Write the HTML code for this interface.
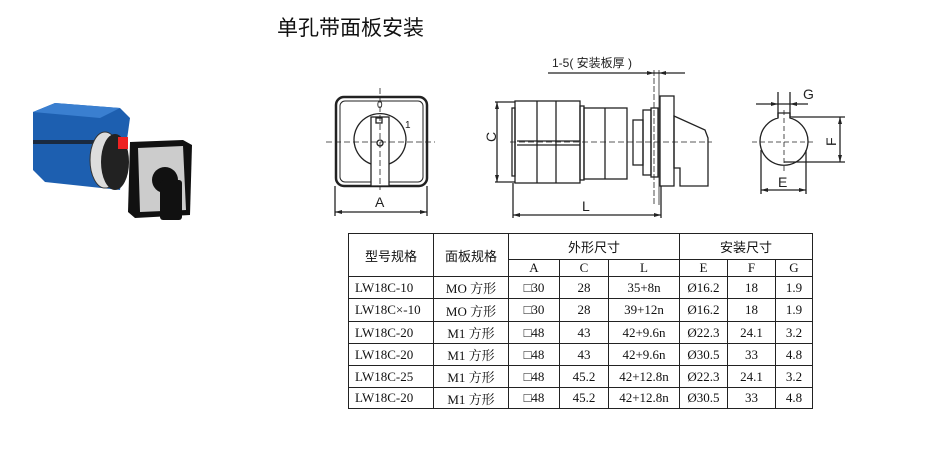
<!DOCTYPE html>
<html><head><meta charset="utf-8"><style>
body{margin:0;width:938px;height:472px;background:#fff;position:relative;overflow:hidden;font-family:"Liberation Sans","Noto Sans CJK SC",sans-serif;}
.t{position:absolute;left:277px;top:12px;font-size:21px;letter-spacing:0px;color:#111;font-family:"Noto Sans CJK SC",sans-serif;}
table{position:absolute;left:348px;top:233px;border-collapse:collapse;font-family:"Liberation Serif","Noto Serif CJK SC",serif;font-size:13px;color:#111;}
td{border:1px solid #222;text-align:center;padding:0;}
.c{font-family:"Noto Sans CJK SC",sans-serif;font-size:13px;}
.l{text-align:left;padding-left:6px;}
</style></head><body>
<div class="t">单孔带面板安装</div>
<svg width="938" height="472" style="position:absolute;left:0;top:0">
<g>
<polygon points="33,112 55,103 120,108 130,118 120,190 45,182 33,170" fill="#1d5fb0"/>
<polygon points="33,112 55,103 120,108 100,118" fill="#3a7fd0"/>
<rect x="33" y="140" width="88" height="4" fill="#1a2a40" transform="skew(0,5)"/>
<ellipse cx="105" cy="160" rx="15" ry="28" fill="#ddd" stroke="#333"/>
<ellipse cx="115" cy="162" rx="14" ry="28" fill="#222"/>
<rect x="118" y="137" width="10" height="12" fill="#e22"/>
<polygon points="130,142 183,140 192,145 190,215 135,218 128,212" fill="#111"/>
<polygon points="138,148 183,146 186,210 140,212" fill="#ccc"/>
<circle cx="165" cy="180" r="13" fill="#111"/>
<rect x="160" y="180" width="22" height="40" rx="3" fill="#111"/>
</g>
<g stroke="#222" fill="none" stroke-width="1.3">
<rect x="336" y="97" width="91" height="89" rx="8" stroke-width="2.5"/>
<rect x="340" y="101" width="83" height="81" rx="5" stroke-width="1"/>
<path d="M371,164 A26,26 0 1 1 389,164" />
<rect x="371" y="117" width="18" height="69" fill="#fff"/>
<rect x="376" y="118" width="6" height="5"/>
<circle cx="380" cy="143" r="3"/>
<line x1="326" y1="142" x2="435" y2="142" stroke-dasharray="6,3" stroke-width="0.8"/>
<line x1="380" y1="88" x2="380" y2="190" stroke-dasharray="6,3" stroke-width="0.8"/>
<line x1="335" y1="186" x2="335" y2="216"/><line x1="427" y1="186" x2="427" y2="216"/>
<line x1="335" y1="212" x2="427" y2="212"/>
<rect x="515" y="101" width="65" height="82"/>
<line x1="537" y1="101" x2="537" y2="183"/><line x1="556" y1="101" x2="556" y2="183"/>
<line x1="517" y1="141" x2="580" y2="141"/><line x1="517" y1="145" x2="580" y2="145"/>
<rect x="512" y="108" width="3" height="68"/>
<rect x="580" y="106" width="4" height="74"/>
<rect x="584" y="108" width="43" height="71"/>
<line x1="605" y1="108" x2="605" y2="179"/>
<rect x="633" y="120" width="10" height="45"/>
<rect x="643" y="110" width="8" height="65"/>
<rect x="651" y="108" width="7" height="69"/>
<rect x="660" y="96" width="14" height="90"/>
<polygon points="674,116 705,130 708,138 708,186 680,186 680,168 674,168"/>
<line x1="654" y1="70" x2="654" y2="205" stroke-dasharray="6,2" stroke-width="0.8"/>
<line x1="659" y1="70" x2="659" y2="205" stroke-width="0.8"/>
<line x1="510" y1="142" x2="712" y2="142" stroke-dasharray="6,3" stroke-width="0.8"/>
<line x1="495" y1="102" x2="515" y2="102"/><line x1="495" y1="182" x2="515" y2="182"/>
<line x1="497" y1="102" x2="497" y2="182"/>
<line x1="513" y1="183" x2="513" y2="218"/><line x1="661" y1="186" x2="661" y2="218"/>
<line x1="513" y1="215" x2="661" y2="215"/>
<line x1="548" y1="73" x2="685" y2="73"/>
<path d="M778,118 A24,24 0 1 0 790,118 L790,113 L778,113 Z"/>
<line x1="778" y1="92" x2="778" y2="118"/><line x1="790" y1="92" x2="790" y2="118"/>
<line x1="756" y1="104" x2="808" y2="104"/>
<line x1="790" y1="117" x2="845" y2="117"/><line x1="784" y1="162" x2="845" y2="162"/>
<line x1="840" y1="117" x2="840" y2="162"/>
<line x1="761" y1="150" x2="761" y2="194"/><line x1="806" y1="150" x2="806" y2="194"/>
<line x1="761" y1="190" x2="806" y2="190"/>
<line x1="752" y1="142" x2="815" y2="142" stroke-dasharray="5,3" stroke-width="0.8"/>
<line x1="784" y1="110" x2="784" y2="172" stroke-dasharray="5,3" stroke-width="0.8"/>
</g>
<g fill="#222">
<polygon points="335,212 342,210 342,214"/><polygon points="427,212 420,210 420,214"/>
<polygon points="497,102 495,109 499,109"/><polygon points="497,182 495,175 499,175"/>
<polygon points="513,215 520,213 520,217"/><polygon points="661,215 654,213 654,217"/>
<polygon points="654,73 647,71 647,75"/><polygon points="659,73 666,71 666,75"/>
<polygon points="778,104 771,102 771,106"/><polygon points="790,104 797,102 797,106"/>
<polygon points="840,117 838,124 842,124"/><polygon points="840,162 838,155 842,155"/>
<polygon points="761,190 768,188 768,192"/><polygon points="806,190 799,188 799,192"/>
</g>
<g font-family="Liberation Sans,sans-serif" font-size="12" fill="#222">
<text x="377" y="108" font-size="10">0</text><text x="405" y="128" font-size="10">1</text>
<text x="375" y="207" font-size="14">A</text>
<text x="582" y="211" font-size="14">L</text>
<text x="552" y="67" font-family="Liberation Sans,Noto Sans CJK SC,sans-serif">1-5( 安装板厚 )</text>
<text x="803" y="99" font-size="14">G</text>
<text x="778" y="187" font-size="14">E</text>
<text x="491" y="147" font-size="14" transform="rotate(-90 491 142)">C</text>
<text x="828" y="146" font-size="14" transform="rotate(-90 832 142)">F</text>
</g>
</svg>
<table>
<tr style="height:26px"><td rowspan="2" class="c" style="width:84px">型号规格</td><td rowspan="2" class="c" style="width:74px">面板规格</td><td colspan="3" class="c">外形尺寸</td><td colspan="3" class="c">安装尺寸</td></tr>
<tr style="height:17px"><td style="width:50px">A</td><td style="width:48px">C</td><td style="width:70px">L</td><td style="width:47px">E</td><td style="width:47px">F</td><td style="width:36px">G</td></tr>
<tr style="height:22px"><td class="l">LW18C-10</td><td>MO 方形</td><td>□30</td><td>28</td><td>35+8n</td><td>Ø16.2</td><td>18</td><td>1.9</td></tr>
<tr style="height:23px"><td class="l">LW18C×-10</td><td>MO 方形</td><td>□30</td><td>28</td><td>39+12n</td><td>Ø16.2</td><td>18</td><td>1.9</td></tr>
<tr style="height:22px"><td class="l">LW18C-20</td><td>M1 方形</td><td>□48</td><td>43</td><td>42+9.6n</td><td>Ø22.3</td><td>24.1</td><td>3.2</td></tr>
<tr style="height:22px"><td class="l">LW18C-20</td><td>M1 方形</td><td>□48</td><td>43</td><td>42+9.6n</td><td>Ø30.5</td><td>33</td><td>4.8</td></tr>
<tr style="height:22px"><td class="l">LW18C-25</td><td>M1 方形</td><td>□48</td><td>45.2</td><td>42+12.8n</td><td>Ø22.3</td><td>24.1</td><td>3.2</td></tr>
<tr style="height:21px"><td class="l">LW18C-20</td><td>M1 方形</td><td>□48</td><td>45.2</td><td>42+12.8n</td><td>Ø30.5</td><td>33</td><td>4.8</td></tr>
</table>
</body></html>
